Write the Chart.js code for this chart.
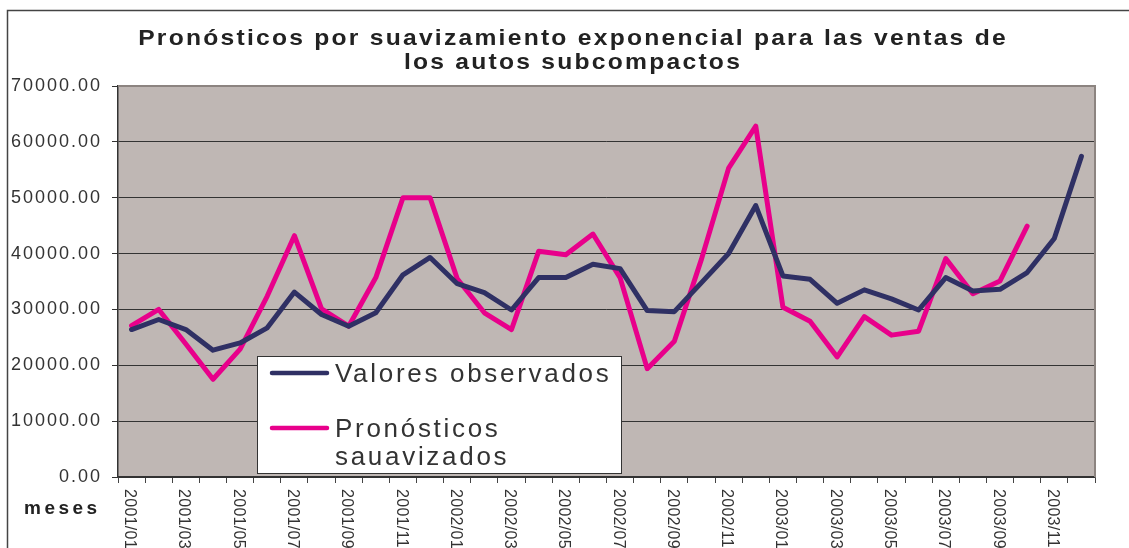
<!DOCTYPE html>
<html>
<head>
<meta charset="utf-8">
<script src="https://cdn.jsdelivr.net/npm/chart.js@4.4.1/dist/chart.umd.min.js"></script>
<style>
  body { margin: 0; background: #fff; }
  canvas { display: block; }
</style>
</head>
<body>
<canvas id="pronosticosChart" width="1129" height="548"></canvas>
<script>
// meses (2001/01 .. 2003/12)
const meses = [
    '2001/01', '2001/02', '2001/03', '2001/04', '2001/05', '2001/06',
    '2001/07', '2001/08', '2001/09', '2001/10', '2001/11', '2001/12',
    '2002/01', '2002/02', '2002/03', '2002/04', '2002/05', '2002/06',
    '2002/07', '2002/08', '2002/09', '2002/10', '2002/11', '2002/12',
    '2003/01', '2003/02', '2003/03', '2003/04', '2003/05', '2003/06',
    '2003/07', '2003/08', '2003/09', '2003/10', '2003/11', '2003/12'
];

const valoresObservados = [
    26400, 28200, 26400, 22700, 24000, 26700, 33100, 29100, 27000, 29400, 36200, 39300,
    34600, 33000, 29900, 35700, 35700, 38100, 37300, 29800, 29600, 34800, 40000, 48600,
    36000, 35400, 31100, 33500, 31900, 29900, 35700, 33300, 33600, 36600, 42700, 57400
];

const pronosticosSuavizados = [
    27100, 30000, 23800, 17500, 22900, 32400, 43200, 30100, 27000, 35700, 50000, 50000,
    35500, 29400, 26400, 40400, 39800, 43500, 35700, 19400, 24300, 39000, 55300, 62800,
    30400, 27900, 21500, 28700, 25400, 26100, 39100, 32800, 35100, 44900, null, null
];

const yTicks = [0, 10000, 20000, 30000, 40000, 50000, 60000, 70000];

const titulo = ['Pronósticos por suavizamiento exponencial para las ventas de', 'los autos subcompactos'];
const tituloEjeX = 'meses';
const etiquetasLeyenda = [['Valores observados'], ['Pronósticos', 'sauavizados']];

const FONT = '"Liberation Sans", Arial, sans-serif';
const NAVY = '#2f3064';
const PINK = '#e8008b';
const PLOT_BG = '#bfb7b4';

// draws the things chart.js can't place the way excel did
const decorPlugin = {
    id: 'decor',
    beforeDraw(chart) {
        const { ctx, chartArea: a } = chart;
        ctx.save();
        ctx.fillStyle = '#fff';
        ctx.fillRect(0, 0, chart.width, chart.height);
        // outer frame
        ctx.strokeStyle = '#444';
        ctx.lineWidth = 1.5;
        ctx.beginPath();
        ctx.moveTo(7.5, chart.height);
        ctx.lineTo(7.5, 10.5);
        ctx.lineTo(chart.width, 10.5);
        ctx.stroke();
        // plot background
        ctx.fillStyle = PLOT_BG;
        ctx.fillRect(a.left, a.top, a.width, a.height);
        ctx.restore();
        ctx.letterSpacing = '2px'; // wide excel-ish tick labels
    },
    afterDraw(chart) {
        const { ctx, chartArea: a } = chart;
        ctx.letterSpacing = '0px';
        ctx.save();

        // top / right plot border
        ctx.strokeStyle = '#8c8480';
        ctx.lineWidth = 2;
        ctx.beginPath();
        ctx.moveTo(a.left, a.top);
        ctx.lineTo(a.right, a.top);
        ctx.lineTo(a.right, a.bottom);
        ctx.stroke();

        // title (excel stretched it a bit wider)
        ctx.save();
        ctx.fillStyle = '#222';
        ctx.font = 'bold 22px ' + FONT;
        ctx.letterSpacing = '2px';
        ctx.textAlign = 'center';
        ctx.textBaseline = 'alphabetic';
        ctx.translate(573, 0);
        ctx.scale(1.12, 1);
        ctx.fillText(titulo[0], 0, 45);
        ctx.fillText(titulo[1], 0, 69);
        ctx.restore();

        // x labels, rotated clockwise, every other month
        const xs = chart.scales.x;
        ctx.fillStyle = '#333';
        ctx.font = '16px ' + FONT;
        ctx.letterSpacing = '0.3px';
        ctx.textAlign = 'left';
        ctx.textBaseline = 'middle';
        meses.forEach((m, i) => {
            if (i % 2 !== 0) return;
            ctx.save();
            ctx.translate(xs.getPixelForValue(i) - 2, a.bottom + 12);
            ctx.rotate(Math.PI / 2);
            ctx.fillText(m, 0, 0);
            ctx.restore();
        });

        // axis title
        ctx.fillStyle = '#222';
        ctx.font = 'bold 19px ' + FONT;
        ctx.letterSpacing = '3.5px';
        ctx.textBaseline = 'alphabetic';
        ctx.fillText(tituloEjeX, 24, 514);

        // legend box inside the plot
        const lx = 257.5, ly = 356.5, lw = 364, lh = 117;
        ctx.fillStyle = '#fff';
        ctx.fillRect(lx, ly, lw, lh);
        ctx.strokeStyle = '#333';
        ctx.lineWidth = 1;
        ctx.strokeRect(lx, ly, lw, lh);

        const rowsY = [373, 428];
        ctx.font = '26px ' + FONT;
        ctx.letterSpacing = '2.7px';
        chart.data.datasets.forEach((ds, i) => {
            const y = rowsY[i];
            ctx.strokeStyle = ds.borderColor;
            ctx.lineWidth = 4.5;
            ctx.lineCap = 'round';
            ctx.beginPath();
            ctx.moveTo(272, y);
            ctx.lineTo(327, y);
            ctx.stroke();
            ctx.fillStyle = '#333';
            etiquetasLeyenda[i].forEach((t, j) => {
                ctx.fillText(t, 335, y + 9 + j * 28);
            });
        });

        ctx.restore();
    }
};

const lineStyle = {
    borderWidth: 5,
    pointRadius: 0,
    pointHoverRadius: 0,
    tension: 0,
    borderCapStyle: 'round',
    borderJoinStyle: 'round',
    fill: false,
    spanGaps: false
};

new Chart(document.getElementById('pronosticosChart'), {
    type: 'line',
    data: {
        labels: meses,
        datasets: [
            Object.assign({ label: 'Valores observados', data: valoresObservados, borderColor: NAVY, backgroundColor: NAVY }, lineStyle),
            Object.assign({ label: 'Pronósticos sauavizados', data: pronosticosSuavizados, borderColor: PINK, backgroundColor: PINK }, lineStyle)
        ]
    },
    options: {
        responsive: false,
        animation: false,
        devicePixelRatio: 1,
        layout: { padding: { top: 86, right: 34, left: 0, bottom: 0 } },
        plugins: {
            legend: { display: false },
            title: { display: false },
            tooltip: { enabled: false }
        },
        scales: {
            x: {
                type: 'category',
                offset: true,
                afterFit(scale) { scale.height = 71; },
                grid: {
                    offset: true,
                    drawOnChartArea: false,
                    drawTicks: true,
                    tickLength: 6,
                    color: '#444',
                    lineWidth: 1
                },
                border: { color: '#333', width: 1.5 },
                ticks: { display: false, autoSkip: false }
            },
            y: {
                min: 0,
                max: 70000,
                afterFit(scale) { scale.width = 118; },
                afterBuildTicks(scale) { scale.ticks = yTicks.map(v => ({ value: v })); },
                grid: {
                    color: '#333',
                    lineWidth: 1,
                    drawTicks: true,
                    tickLength: 6
                },
                border: { color: '#333', width: 1.5 },
                ticks: {
                    color: '#333',
                    padding: 10,
                    font: { family: FONT, size: 18 },
                    callback: v => Number(v).toFixed(2)
                }
            }
        }
    },
    plugins: [decorPlugin]
});
</script>
</body>
</html>
